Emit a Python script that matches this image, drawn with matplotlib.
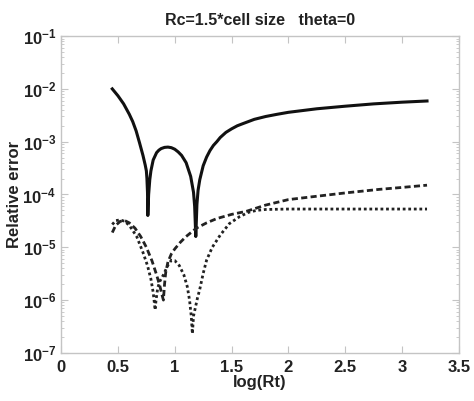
import matplotlib
matplotlib.use("Agg")
import matplotlib.pyplot as plt
from matplotlib.ticker import LogLocator, FixedLocator, NullFormatter

# solid curve: relative error
x_solid = [0.45, 0.50, 0.55, 0.60, 0.63, 0.66, 0.69, 0.72, 0.74, 0.75, 0.755, 0.76,
           0.763, 0.766, 0.77, 0.78, 0.79, 0.81, 0.84, 0.86, 0.88, 0.91, 0.94, 0.97,
           1.00, 1.03, 1.06, 1.10, 1.14, 1.165, 1.175, 1.185, 1.195, 1.205, 1.22,
           1.25, 1.28, 1.31, 1.34, 1.37, 1.40, 1.45, 1.50, 1.55, 1.60, 1.70, 1.80,
           1.90, 2.00, 2.25, 2.50, 2.75, 3.00, 3.22]
y_solid = [1.0e-2, 7.4e-3, 5.2e-3, 3.3e-3, 2.4e-3, 1.6e-3, 9.5e-4, 5.5e-4, 3.6e-4,
           2.8e-4, 2.0e-4, 1.1e-4, 4e-5, 6e-5, 1.0e-4, 1.9e-4, 2.8e-4, 4.5e-4,
           6.2e-4, 6.9e-4, 7.4e-4, 7.8e-4, 7.9e-4, 7.7e-4, 7.2e-4, 6.4e-4, 5.5e-4,
           4.0e-4, 2.2e-4, 1.1e-4, 6e-5, 1.6e-5, 6.5e-5, 1.2e-4, 1.9e-4, 3.5e-4,
           5.1e-4, 6.8e-4, 8.5e-4, 1.0e-3, 1.2e-3, 1.5e-3, 1.75e-3, 2.0e-3, 2.2e-3,
           2.65e-3, 3.0e-3, 3.3e-3, 3.6e-3, 4.2e-3, 4.7e-3, 5.2e-3, 5.6e-3, 5.9e-3]

# dashed curve (ends near 1.5e-4)
x_dash = [0.45, 0.48, 0.52, 0.56, 0.60, 0.65, 0.70, 0.75, 0.80, 0.84, 0.87, 0.89,
          0.90, 0.91, 0.92, 0.94, 0.97, 1.00, 1.05, 1.10, 1.19, 1.28, 1.37, 1.50,
          1.63, 1.80, 2.00, 2.20, 2.50, 2.80, 3.00, 3.22]
y_dash = [1.9e-5, 2.6e-5, 3.1e-5, 3.2e-5, 2.9e-5, 2.3e-5, 1.6e-5, 1.0e-5, 5.5e-6,
          3.0e-6, 1.8e-6, 1.2e-6, 1.0e-6, 2.0e-6, 3.3e-6, 5.3e-6, 7.5e-6, 9.3e-6,
          1.25e-5, 1.6e-5, 2.3e-5, 2.9e-5, 3.5e-5, 4.2e-5, 4.8e-5, 6.3e-5, 8.0e-5,
          9.0e-5, 1.07e-4, 1.25e-4, 1.36e-4, 1.5e-4]

# dotted curve (plateau near 5e-5)
x_dot = [0.45, 0.48, 0.52, 0.56, 0.60, 0.665, 0.72, 0.76, 0.79, 0.81, 0.82, 0.827,
         0.835, 0.85, 0.87, 0.90, 0.94, 0.97, 1.00, 1.04, 1.08, 1.11, 1.13, 1.145,
         1.155, 1.165, 1.18, 1.20, 1.22, 1.25, 1.28, 1.33, 1.40, 1.48, 1.57, 1.65,
         1.72, 1.80, 2.00, 2.50, 3.00, 3.22]
y_dot = [2.7e-5, 3.2e-5, 3.3e-5, 3.1e-5, 2.6e-5, 1.6e-5, 8e-6, 4.5e-6, 2.5e-6,
         1.4e-6, 9e-7, 6.5e-7, 1.0e-6, 1.7e-6, 2.3e-6, 3.0e-6, 4.6e-6, 5.7e-6,
         5.6e-6, 4.5e-6, 3.0e-6, 1.8e-6, 1.0e-6, 5e-7, 2.3e-7, 5e-7, 7e-7, 1.1e-6,
         1.6e-6, 3.2e-6, 5.7e-6, 1.0e-5, 1.7e-5, 2.8e-5, 3.8e-5, 4.6e-5, 5.0e-5,
         5.2e-5, 5.3e-5, 5.3e-5, 5.3e-5, 5.3e-5]

x_ticks = [0, 0.5, 1, 1.5, 2, 2.5, 3, 3.5]
x_tick_labels = ["0", "0.5", "1", "1.5", "2", "2.5", "3", "3.5"]

plt.rcParams["font.family"] = ["Liberation Sans", "DejaVu Sans"]
plt.rcParams["font.weight"] = "bold"

fig = plt.figure(figsize=(4.74, 4.01), dpi=100)
ax = fig.add_axes([0.129, 0.120, 0.839, 0.790])

ax.plot(x_solid, y_solid, color="#111111", lw=2.2, solid_joinstyle="round")
ax.plot(x_dash, y_dash, color="#222222", lw=2.0, ls=(0, (2.2, 1.2)))
ax.plot(x_dot, y_dot, color="#222222", lw=2.0, ls=(0, (1.0, 1.0)))

ax.set_yscale("log")
ax.set_xlim(0, 3.5)
ax.set_ylim(1e-7, 1e-1)
ax.xaxis.set_major_locator(FixedLocator(x_ticks))
ax.set_xticklabels(x_tick_labels)
ax.yaxis.set_major_locator(LogLocator(base=10, numticks=10))
ax.yaxis.set_minor_locator(LogLocator(base=10, subs=range(2, 10), numticks=10))
ax.yaxis.set_minor_formatter(NullFormatter())
ax.xaxis.set_minor_formatter(NullFormatter())

for sp in ax.spines.values():
    sp.set_color("#c4c4c4")
    sp.set_linewidth(1.0)
ax.tick_params(which="both", direction="in", top=True, right=True,
               color="#c4c4c4", labelcolor="#222222", labelsize=12)
ax.tick_params(which="major", length=5)
ax.tick_params(which="minor", length=2.5)
ax.tick_params(axis="x", pad=5)

ax.set_title("Rc=1.5*cell size   theta=0", fontsize=11.5, fontweight="bold",
             color="#222222", pad=8)
ax.set_xlabel("log(Rt)", fontsize=12, fontweight="bold", color="#222222", labelpad=0)
ax.set_ylabel("Relative error", fontsize=12, fontweight="bold", color="#222222",
              labelpad=0)

fig.savefig("out.png", dpi=100)
